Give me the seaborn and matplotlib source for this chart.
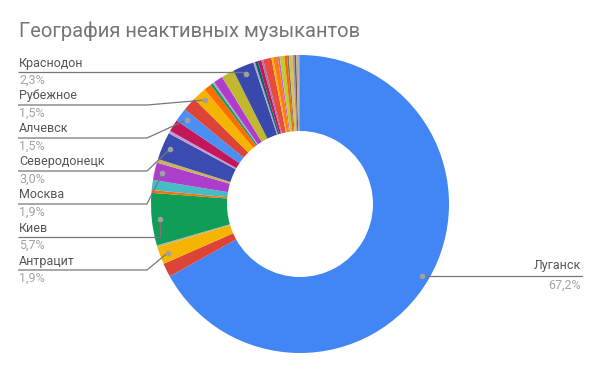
import numpy as np
import matplotlib
matplotlib.use("Agg")
import matplotlib.pyplot as plt
import seaborn as sns

# slices in clockwise order starting at 12 o'clock
labels = ["Луганск", "", "Антрацит", "", "Киев", "", "", "Москва", "", "Северодонецк",
          "", "", "Алчевск", "", "Рубежное", "", "", "", "", "", "Краснодон",
          "", "", "", "", "", "", "", "", "", "", "", "", "", "", "", ""]
shares = [67.2, 1.5, 1.9, 0.2, 5.7, 0.3, 1.1, 1.9, 0.4, 3.0,
          0.3, 1.3, 1.5, 1.5, 1.5, 0.8, 0.3, 0.2, 1.0, 1.4, 2.3,
          0.2, 0.3, 0.4, 0.2, 0.9, 0.2, 0.5, 0.2, 0.5, 0.3, 0.2, 0.4, 0.2, 0.2, 0.2, 0.2]
colors = ["#4285f4", "#db4437", "#f4b400", "#bdb08a", "#0f9d58", "#ff6d00", "#46bdc6",
          "#ab3fcc", "#c9b35a", "#3b4cb0", "#c39bd3", "#c2185b", "#4b8ff2", "#db4437",
          "#f4b400", "#ff6d00", "#0f9d58", "#b39ddb", "#b03ccc", "#c1b82f", "#3949ab",
          "#b39ddb", "#00695c", "#c2185b", "#9575cd", "#e84c3d", "#f4b400", "#ff7a10",
          "#ba68c8", "#c0ca33", "#ef6c00", "#8d6e63", "#d4c15b", "#9e9e9e", "#795548",
          "#bcaaa4", "#9e9e9e"]
pct_text = {"Луганск": "67,2%", "Антрацит": "1,9%", "Киев": "5,7%", "Москва": "1,9%",
            "Северодонецк": "3,0%", "Алчевск": "1,5%", "Рубежное": "1,5%", "Краснодон": "2,3%"}
left_labels = ["Краснодон", "Рубежное", "Алчевск", "Северодонецк", "Москва", "Киев", "Антрацит"]

sns.set_theme(style="white")
plt.rcParams["font.family"] = ["Roboto", "DejaVu Sans"]

W, H = 600, 371
fig = plt.figure(figsize=(6, 3.71), dpi=100)
ax = fig.add_axes([0, 0, 1, 1])

def Y(y):
    return H - y

cx, cy, R = 300, 204, 149
wedges, _ = ax.pie(shares, colors=sns.color_palette(colors), startangle=90, counterclock=False,
                   center=(cx, Y(cy)), radius=R, wedgeprops=dict(width=76, linewidth=0))
ax.set_xlim(0, W)
ax.set_ylim(0, H)
ax.set_aspect("auto")
ax.axis("off")

def dot_of(i, r=141):
    w = wedges[i]
    mid = np.deg2rad((w.theta1 + w.theta2) / 2)
    return cx + r * np.cos(mid), Y(cy) + r * np.sin(mid)

line_c = "#777777"
name_c = "#555555"
pct_c = "#a3a3a3"
fs = 9

for k, name in enumerate(left_labels):
    i = labels.index(name)
    dx, dy = dot_of(i)
    ly = Y(72 + 33 * k)
    knee = 147 if dx > 160 and k > 0 else dx
    ax.plot([18, knee, dx], [ly, ly, dy], color=line_c, lw=0.9, solid_capstyle="butt")
    ax.plot(dx, dy, "o", color="#a0a0a0", ms=3)
    ax.text(19, ly + 9, name, color=name_c, fontsize=fs, va="center", ha="left")
    ax.text(19, ly - 8.5, pct_text[name], color=pct_c, fontsize=fs, va="center", ha="left")

# main slice label on the right
dx, dy = dot_of(0)
ax.plot([dx, 582], [dy, dy], color=line_c, lw=0.9)
ax.plot(dx, dy, "o", color="#a0a0a0", ms=3)
ax.text(581, dy + 10, "Луганск", color=name_c, fontsize=fs, va="center", ha="right")
ax.text(581, dy - 9.5, pct_text["Луганск"], color=pct_c, fontsize=fs, va="center", ha="right")

ax.text(19, Y(31), "География неактивных музыкантов", color="#757575", fontsize=14.5,
        va="center", ha="left")

fig.savefig("out.png", dpi=100, facecolor="white")
